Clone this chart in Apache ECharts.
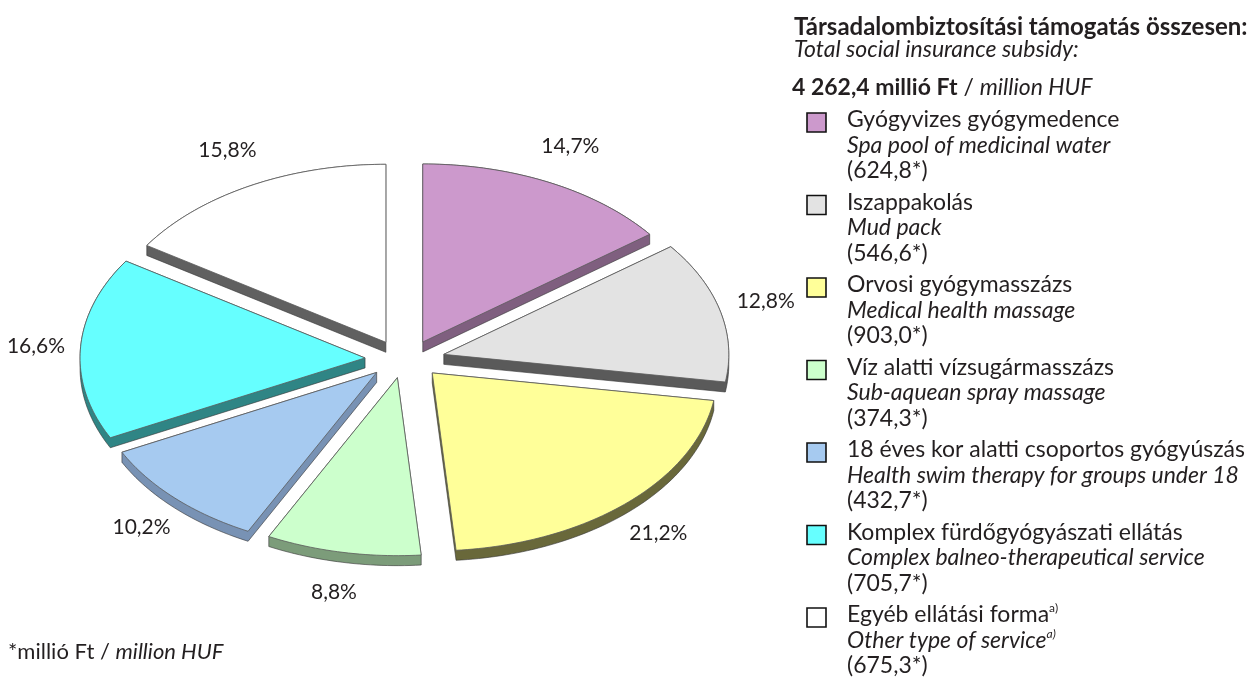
<!DOCTYPE html>
<html>
<head>
<meta charset="utf-8">
<script src="https://cdn.jsdelivr.net/npm/echarts@6/dist/echarts.min.js"></script>
<style>
  html, body { margin: 0; background: #fff; }
  #main { width: 1258px; height: 679px; }
</style>
</head>
<body>
<div id="main"></div>
<script>
// categories (Hungarian / English), values in million HUF
const namesHu = [
  'Gyógyvizes gyógymedence',
  'Iszappakolás',
  'Orvosi gyógymasszázs',
  'Víz alatti vízsugármasszázs',
  '18 éves kor alatti csoportos gyógyúszás',
  'Komplex fürdőgyógyászati ellátás',
  'Egyéb ellátási forma'
]
const namesEn = [
  'Spa pool of medicinal water',
  'Mud pack',
  'Medical health massage',
  'Sub-aquean spray massage',
  'Health swim therapy for groups under 18',
  'Complex balneo-therapeutical service',
  'Other type of service'
]
const notes = ['', '', '', '', '', '', 'a)']
const values = [624.8, 546.6, 903.0, 374.3, 432.7, 705.7, 675.3]

const topColors = ['#CC99CC', '#E3E3E3', '#FFFF99', '#CCFFCC', '#A6CAF0', '#66FFFF', '#FFFFFF']
const sideColors = ['#7F5F7F', '#5A5A5A', '#69683A', '#7C9C7A', '#7892B4', '#2F8585', '#606060']

const FONT = 'Lato, "Open Sans", sans-serif'
const fmt = (v, d) => v.toFixed(d).replace('.', ',')
const total = values.reduce((a, b) => a + b, 0)

// pie geometry (tilted, exploded)
const cx = 405, cy = 359, rx = 285, ry = 178
const exX = 40, exY = 19, depth = 10
const labRx = 372, labRy = 238

let acc = 0
const slices = values.map(v => {
  const a0 = acc / total * Math.PI * 2
  acc += v
  const a1 = acc / total * Math.PI * 2
  return { a0, a1, mid: (a0 + a1) / 2 }
})
// back slices first
const order = slices.map((s, i) => i).sort((a, b) => Math.cos(slices[b].mid) - Math.cos(slices[a].mid))

function hull(points) {
  const p = points.slice().sort((a, b) => a[0] - b[0] || a[1] - b[1])
  const cross = (o, a, b) => (a[0] - o[0]) * (b[1] - o[1]) - (a[1] - o[1]) * (b[0] - o[0])
  const lower = [], upper = []
  for (const q of p) {
    while (lower.length >= 2 && cross(lower[lower.length - 2], lower[lower.length - 1], q) <= 0) lower.pop()
    lower.push(q)
  }
  for (let i = p.length - 1; i >= 0; i--) {
    const q = p[i]
    while (upper.length >= 2 && cross(upper[upper.length - 2], upper[upper.length - 1], q) <= 0) upper.pop()
    upper.push(q)
  }
  upper.pop(); lower.pop()
  return lower.concat(upper)
}

function renderSlice(params) {
  const i = params.dataIndex
  const s = slices[i]
  const ox = cx + exX * Math.sin(s.mid)
  const oy = cy - exY * Math.cos(s.mid)
  const pts = [[ox, oy]]
  const n = Math.max(10, Math.ceil((s.a1 - s.a0) / 0.02))
  for (let k = 0; k <= n; k++) {
    const a = s.a0 + (s.a1 - s.a0) * k / n
    pts.push([ox + rx * Math.sin(a), oy - ry * Math.cos(a)])
  }
  const side = hull(pts.concat(pts.map(p => [p[0], p[1] + depth])))
  const rank = order.indexOf(i)
  let lx = cx + labRx * Math.sin(s.mid)
  const ly = cy - labRy * Math.cos(s.mid)
  lx = Math.max(36, lx)
  return {
    type: 'group',
    children: [
      { type: 'polygon', z2: rank * 3, shape: { points: side },
        style: { fill: sideColors[i], stroke: '#333', lineWidth: 0.6 } },
      { type: 'polygon', z2: rank * 3 + 1, shape: { points: pts },
        style: { fill: topColors[i], stroke: '#5a5a5a', lineWidth: 0.8 } },
      { type: 'text', z2: 100,
        style: { text: fmt(values[i] / total * 100, 1) + '%', x: lx, y: ly,
          align: 'center', verticalAlign: 'middle', fill: '#231f20',
          fontSize: 21, fontFamily: FONT } }
    ]
  }
}

// legend built from the category arrays
const legendX = 807, textX = 847, entryTop = 120, entryStep = 82.5, lineGap = 25.5
const FS = 23
const legendItems = []
namesHu.forEach((name, i) => {
  const y = entryTop + i * entryStep
  legendItems.push({
    type: 'rect', shape: { x: legendX, y: y - 7, width: 19, height: 19 },
    style: { fill: topColors[i], stroke: '#111', lineWidth: 1.6 }
  })
  const sup = notes[i] ? '{s|' + notes[i] + '}' : ''
  const supI = notes[i] ? '{si|' + notes[i] + '}' : ''
  legendItems.push({
    type: 'text', x: textX, y: y - lineGap / 2,
    style: {
      text: '{n|' + name + '}' + sup + '\n{i|' + namesEn[i] + '}' + supI + '\n{n|(' + fmt(values[i], 1) + '*)}',
      verticalAlign: 'top', fill: '#231f20',
      rich: {
        n: { fontSize: FS, fontFamily: FONT, lineHeight: lineGap, fill: '#231f20' },
        i: { fontSize: FS, fontFamily: FONT, fontStyle: 'italic', lineHeight: lineGap, fill: '#231f20' },
        s: { fontSize: 12, fontFamily: FONT, verticalAlign: 'top', lineHeight: 12, fill: '#231f20' },
        si: { fontSize: 12, fontFamily: FONT, fontStyle: 'italic', verticalAlign: 'top', lineHeight: 12, fill: '#231f20' }
      }
    }
  })
})

const chart = echarts.init(document.getElementById('main'))
chart.setOption({
  backgroundColor: '#fff',
  animation: false,
  graphic: [
    { type: 'text', x: 794, y: 27,
      style: { text: 'Társadalombiztosítási támogatás összesen:', fontSize: 24, fontWeight: 'bold',
        fontFamily: FONT, fill: '#231f20', verticalAlign: 'middle' } },
    { type: 'text', x: 794, y: 50,
      style: { text: 'Total social insurance subsidy:', fontSize: FS, fontStyle: 'italic',
        fontFamily: FONT, fill: '#231f20', verticalAlign: 'middle' } },
    { type: 'text', x: 792, y: 88,
      style: { text: '{b|' + fmt(total, 1).replace(/^(\d)(\d{3})/, '$1 $2') + ' millió Ft} / {i|million HUF}',
        fontSize: FS, fontFamily: FONT, fill: '#231f20', verticalAlign: 'middle',
        rich: {
          b: { fontSize: FS, fontWeight: 'bold', fontFamily: FONT, fill: '#231f20' },
          i: { fontSize: FS, fontStyle: 'italic', fontFamily: FONT, fill: '#231f20' }
        } } },
    { type: 'text', x: 8, y: 652,
      style: { text: '*millió Ft / {i|million HUF}', fontSize: 22, fontFamily: FONT, fill: '#231f20',
        verticalAlign: 'middle',
        rich: { i: { fontSize: 22, fontStyle: 'italic', fontFamily: FONT, fill: '#231f20' } } } },
    ...legendItems
  ],
  series: [{
    type: 'custom',
    coordinateSystem: 'none',
    data: values,
    renderItem: renderSlice,
    silent: true
  }]
})
</script>
</body>
</html>
